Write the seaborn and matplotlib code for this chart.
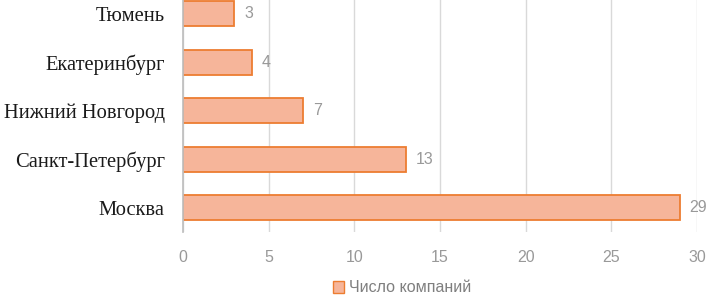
import matplotlib
matplotlib.use("Agg")
import matplotlib.pyplot as plt
import seaborn as sns
import pandas as pd
from matplotlib.patches import Patch

cities = ["Тюмень", "Екатеринбург", "Нижний Новгород", "Санкт-Петербург", "Москва"]
values = [3, 4, 7, 13, 29]
series_name = "Число компаний"
xticks = [0, 5, 10, 15, 20, 25, 30]

sns.set_theme(style="white")
plt.rcParams['font.family'] = ['Liberation Sans', 'DejaVu Sans']

df = pd.DataFrame({"city": cities, "value": values})

fig = plt.figure(figsize=(7.08, 2.97), dpi=100)
ax = fig.add_axes([183/708, 65/297, (697-183)/708, 242.5/297])

fill = "#F6B59A"
edge = "#ED7D31"
sns.barplot(data=df, x="value", y="city", order=cities, orient="h",
            color=fill, edgecolor=edge, linewidth=1.3, width=0.52, ax=ax, saturation=1)

ax.set_xlim(0, 30)
ax.set_xticks(xticks)
ax.set_xlabel("")
ax.set_ylabel("")
ax.grid(axis="x", color="#D9D9D9", linewidth=1)
ax.set_axisbelow(True)
for s in ["top", "right", "bottom"]:
    ax.spines[s].set_visible(False)
ax.spines["left"].set_color("#BFBFBF")
ax.tick_params(axis="x", length=0, labelsize=11.5, labelcolor="#999999", pad=13)
ax.tick_params(axis="y", length=0, pad=13)
for lbl in ax.get_yticklabels():
    lbl.set_fontfamily("Liberation Serif")
    lbl.set_fontsize(14.8)
    lbl.set_color("#1a1a1a")

for c in ax.containers:
    ax.bar_label(c, labels=[str(v) for v in values], padding=7,
                 fontsize=11.5, color="#999999")

handles = [Patch(facecolor=fill, edgecolor=edge, linewidth=1)]
fig.legend(handles, [series_name], loc="center", bbox_to_anchor=(402/708, 1-288/297),
           frameon=False, fontsize=11.5, labelcolor="#7F7F7F",
           handlelength=0.7, handleheight=0.7, handletextpad=0.3)

fig.savefig("out.png", dpi=100)
